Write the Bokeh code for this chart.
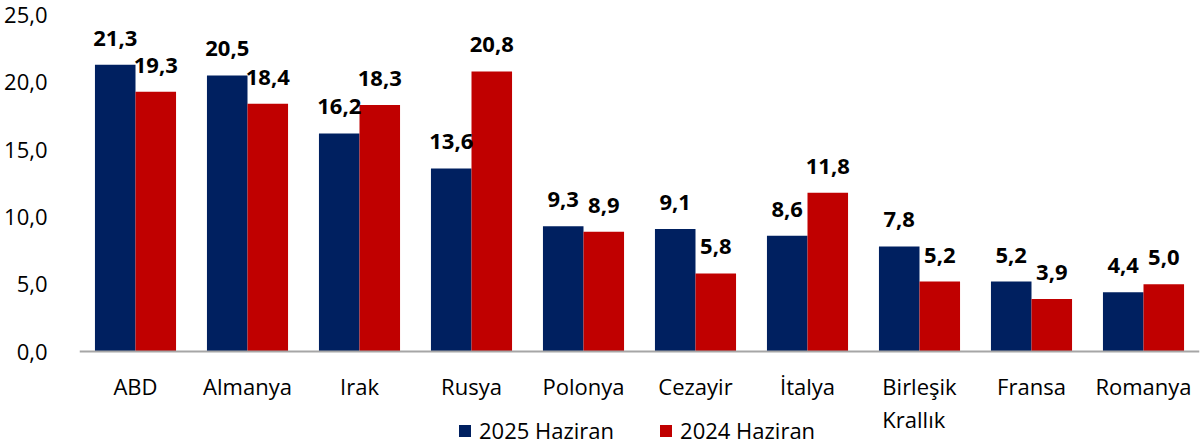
from bokeh.plotting import figure
from bokeh.models import ColumnDataSource, FactorRange, LabelSet, Legend, LegendItem, CustomJSTickFormatter, Span
from bokeh.core.properties import value
from bokeh.transform import dodge
from bokeh.embed import file_html
from bokeh.resources import INLINE

countries = ["ABD", "Almanya", "Irak", "Rusya", "Polonya", "Cezayir", "İtalya",
             "Birleşik\nKrallık", "Fransa", "Romanya"]
v2025 = [21.3, 20.5, 16.2, 13.6, 9.3, 9.1, 8.6, 7.8, 5.2, 4.4]
v2024 = [19.3, 18.4, 18.3, 20.8, 8.9, 5.8, 11.8, 5.2, 3.9, 5.0]
series_names = ["2025 Haziran", "2024 Haziran"]
yticks = [0, 5, 10, 15, 20, 25]

NAVY = "#002060"
RED = "#C00000"
FONT = "Open Sans"
FS = "22px"

def fmt(v):
    return f"{v:.1f}".replace(".", ",")

src = ColumnDataSource(dict(
    c=countries, a=v2025, b=v2024,
    la=[fmt(v) for v in v2025], lb=[fmt(v) for v in v2024],
    zero=[0] * len(countries),
))

p = figure(x_range=FactorRange(*countries, range_padding=0), y_range=(-6.98, 26.07),
           frame_width=1120, frame_height=445, output_backend="svg", toolbar_location=None,
           min_border_left=79, min_border_right=1, min_border_top=0, min_border_bottom=0)
p.outline_line_color = None
p.grid.grid_line_color = None

r1 = p.vbar(x=dodge("c", -0.181, range=p.x_range), top="a", width=0.362, source=src,
            fill_color=NAVY, line_color=None)
r2 = p.vbar(x=dodge("c", 0.181, range=p.x_range), top="b", width=0.362, source=src,
            fill_color=RED, line_color=None)

for col, lab, off in (("a", "la", -0.181), ("b", "lb", 0.181)):
    p.add_layout(LabelSet(x=dodge("c", off, range=p.x_range), y=col, text=lab, source=src,
                          text_align="center", text_baseline="alphabetic", y_offset=19,
                          text_font=value(FONT), text_font_style="bold", text_font_size=FS,
                          text_color="black"))

# category labels under the baseline
p.add_layout(LabelSet(x="c", y="zero", text="c", source=src, text_align="center",
                      text_baseline="top", y_offset=-19, text_line_height=1.1,
                      text_font=value(FONT), text_font_size=FS, text_color="black"))

# baseline (x axis line at 0)
p.add_layout(Span(location=0, dimension="width", line_color="#A6A6A6", line_width=2))
p.xaxis.visible = False

p.yaxis.ticker = yticks
p.yaxis.formatter = CustomJSTickFormatter(code="return tick.toFixed(1).replace('.', ',');")
p.yaxis.axis_line_color = None
p.yaxis.major_tick_line_color = None
p.yaxis.minor_tick_line_color = None
p.yaxis.major_label_standoff = 26
p.yaxis.major_label_text_font = FONT
p.yaxis.major_label_text_font_size = FS
p.yaxis.major_label_text_color = "black"

legend = Legend(items=[LegendItem(label=series_names[0], renderers=[r1]),
                       LegendItem(label=series_names[1], renderers=[r2])],
                orientation="horizontal", location=(378, 0),
                glyph_width=15, glyph_height=15, label_standoff=7, spacing=44,
                padding=0, margin=0, border_line_color=None, background_fill_alpha=0,
                label_text_font=FONT, label_text_font_size=FS, label_text_color="black",
                label_height=20)
p.add_layout(legend, "center")

open("out.html", "w").write(file_html(p, INLINE))
